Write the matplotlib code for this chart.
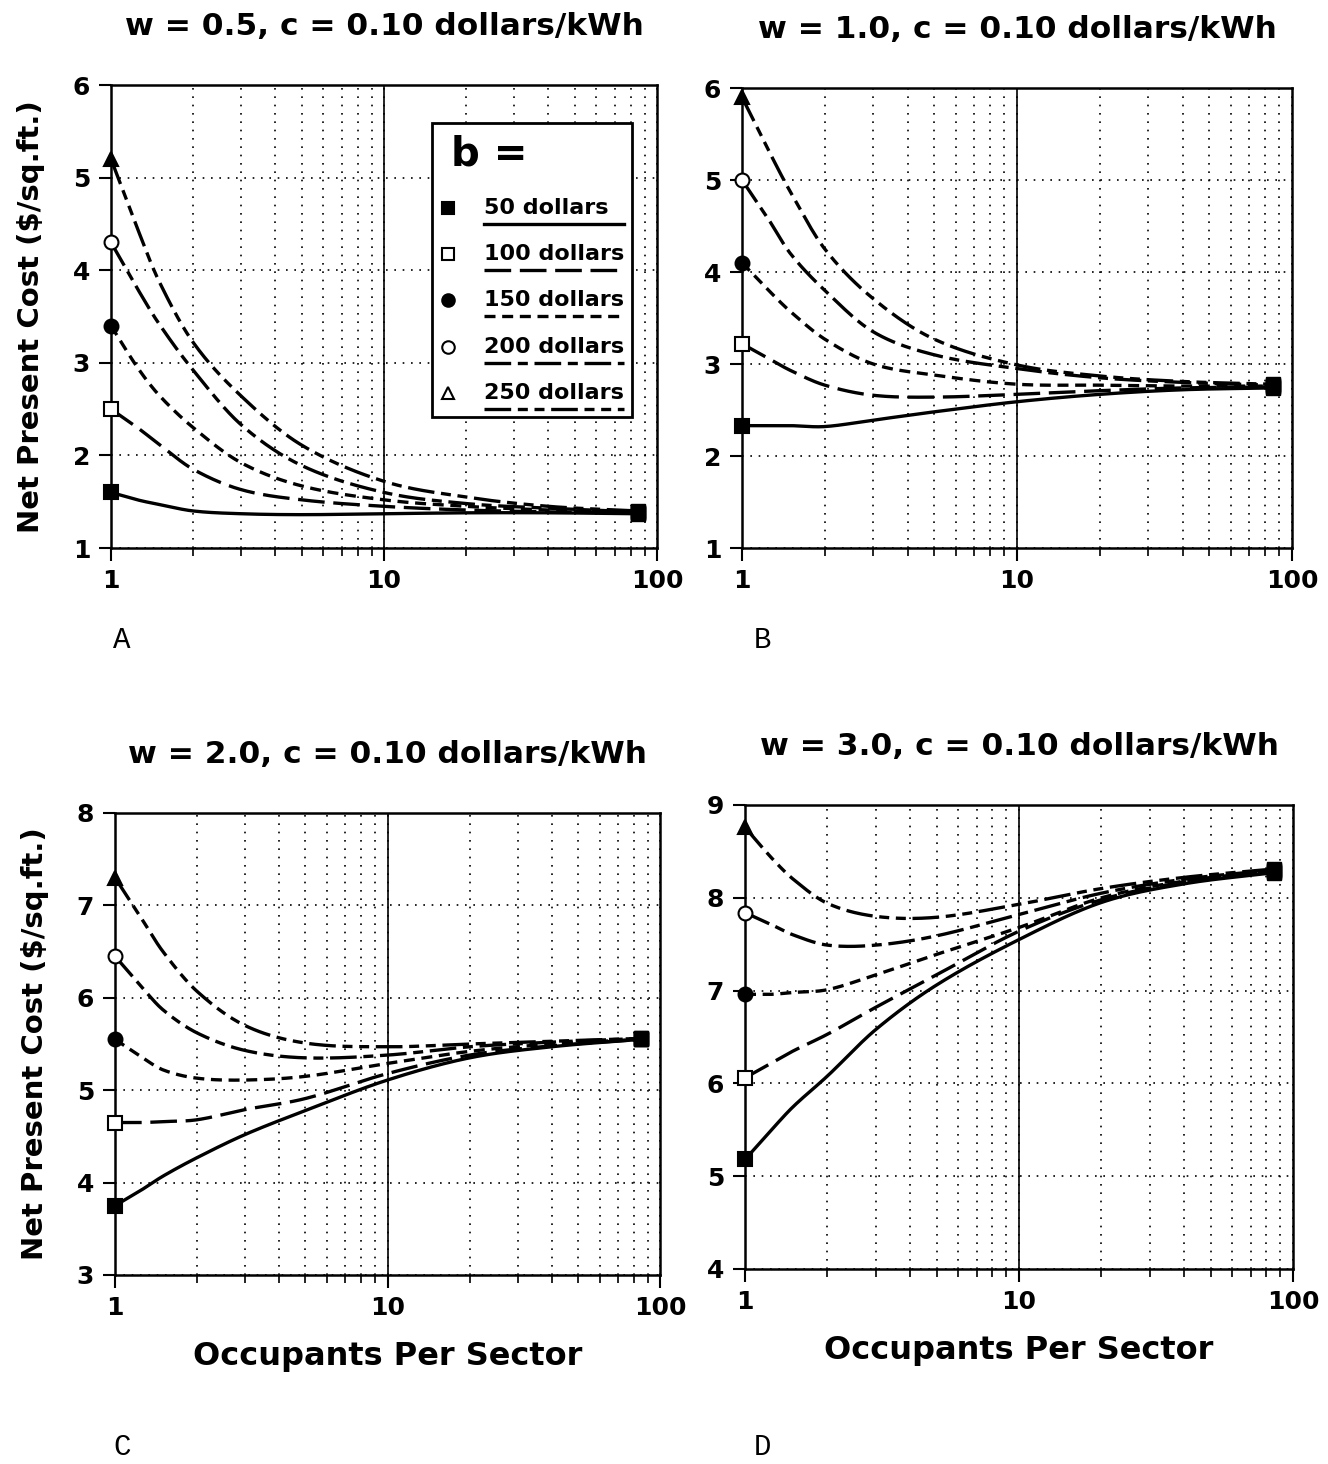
import numpy as np
import matplotlib
matplotlib.use("Agg")
import matplotlib.pyplot as plt
from matplotlib.patches import Rectangle
from matplotlib.ticker import FixedLocator, FixedFormatter, NullFormatter

# occupants per sector (x), read at these points
occupants = [1, 1.25, 1.5, 2, 3, 5, 10, 20, 40, 85]
b_labels = ["50 dollars", "100 dollars", "150 dollars", "200 dollars", "250 dollars"]

# panel A: w = 0.5
npc_A = {
    "50":  [1.60, 1.52, 1.47, 1.40, 1.37, 1.36, 1.37, 1.38, 1.38, 1.37],
    "100": [2.50, 2.30, 2.12, 1.85, 1.63, 1.52, 1.45, 1.41, 1.39, 1.38],
    "150": [3.40, 2.95, 2.65, 2.30, 1.92, 1.67, 1.52, 1.45, 1.41, 1.38],
    "200": [4.30, 3.80, 3.42, 2.92, 2.33, 1.89, 1.60, 1.48, 1.43, 1.39],
    "250": [5.20, 4.45, 3.88, 3.22, 2.64, 2.11, 1.72, 1.55, 1.45, 1.40],
}
# panel B: w = 1.0
npc_B = {
    "50":  [2.33, 2.33, 2.33, 2.32, 2.39, 2.48, 2.59, 2.67, 2.72, 2.74],
    "100": [3.22, 3.06, 2.93, 2.77, 2.66, 2.64, 2.67, 2.71, 2.74, 2.75],
    "150": [4.10, 3.80, 3.57, 3.27, 3.00, 2.88, 2.78, 2.77, 2.76, 2.76],
    "200": [5.00, 4.57, 4.20, 3.80, 3.35, 3.10, 2.95, 2.85, 2.80, 2.77],
    "250": [5.90, 5.32, 4.87, 4.25, 3.71, 3.27, 2.99, 2.87, 2.81, 2.78],
}
# panel C: w = 2.0
npc_C = {
    "50":  [3.75, 3.92, 4.07, 4.27, 4.52, 4.78, 5.11, 5.35, 5.47, 5.55],
    "100": [4.65, 4.65, 4.66, 4.68, 4.79, 4.91, 5.18, 5.38, 5.48, 5.55],
    "150": [5.55, 5.36, 5.22, 5.13, 5.11, 5.15, 5.29, 5.42, 5.50, 5.55],
    "200": [6.45, 6.12, 5.87, 5.62, 5.43, 5.35, 5.38, 5.47, 5.52, 5.56],
    "250": [7.30, 6.86, 6.50, 6.07, 5.70, 5.51, 5.47, 5.50, 5.53, 5.56],
}
# panel D: w = 3.0
npc_D = {
    "50":  [5.18, 5.50, 5.75, 6.08, 6.58, 7.06, 7.55, 7.95, 8.15, 8.27],
    "100": [6.06, 6.22, 6.35, 6.53, 6.82, 7.17, 7.64, 7.98, 8.17, 8.28],
    "150": [6.96, 6.96, 6.98, 7.01, 7.17, 7.39, 7.68, 8.00, 8.18, 8.29],
    "200": [7.84, 7.71, 7.60, 7.49, 7.49, 7.59, 7.82, 8.05, 8.20, 8.30],
    "250": [8.76, 8.43, 8.20, 7.94, 7.80, 7.79, 7.93, 8.10, 8.22, 8.31],
}

titles = ["w = 0.5, c = 0.10 dollars/kWh", "w = 1.0, c = 0.10 dollars/kWh",
          "w = 2.0, c = 0.10 dollars/kWh", "w = 3.0, c = 0.10 dollars/kWh"]
letters = ["A", "B", "C", "D"]
ylims = [(1, 6), (1, 6), (3, 8), (4, 9)]

styles = {
    "50":  dict(ls="-", marker="s", mfc="k"),
    "100": dict(ls=(0, (8, 2.6)), marker="s", mfc="w"),
    "150": dict(ls=(0, (3.3, 2)), marker="o", mfc="k"),
    "200": dict(ls=(0, (8, 2, 3, 2)), marker="o", mfc="w"),
    "250": dict(ls=(0, (8, 2, 3, 2, 3, 2)), marker="^", mfc="k"),
}

W, H = 1328, 1464
fig = plt.figure(figsize=(W / 100, H / 100), dpi=100)

# axes boxes in pixels: left, right, top, bottom
boxes = [(111, 657, 85, 548), (742, 1292, 88, 548),
         (115, 660, 813, 1275), (745, 1293, 805, 1269)]


def smooth(x, y):
    # Catmull-Rom style cubic through the read points, in log x
    lx = np.log10(x)
    xs = np.linspace(lx[0], lx[-1], 300)
    ys = np.empty_like(xs)
    n = len(lx)
    for k, xv in enumerate(xs):
        i = min(np.searchsorted(lx, xv, side="right") - 1, n - 2)
        i = max(i, 0)
        x0, x1 = lx[i], lx[i + 1]
        y0, y1 = y[i], y[i + 1]
        m0 = (y[i + 1] - y[i - 1]) / (lx[i + 1] - lx[i - 1]) if i > 0 else (y1 - y0) / (x1 - x0)
        m1 = (y[i + 2] - y[i]) / (lx[i + 2] - lx[i]) if i + 2 < n else (y1 - y0) / (x1 - x0)
        h = x1 - x0
        t = (xv - x0) / h
        ys[k] = ((2*t**3 - 3*t**2 + 1) * y0 + (t**3 - 2*t**2 + t) * h * m0
                 + (-2*t**3 + 3*t**2) * y1 + (t**3 - t**2) * h * m1)
    return 10 ** xs, ys


datasets = [npc_A, npc_B, npc_C, npc_D]
axes = []
for p in range(4):
    l, r, t, b = boxes[p]
    ax = fig.add_axes([l / W, 1 - b / H, (r - l) / W, (b - t) / H])
    axes.append(ax)
    ax.set_xscale("log")
    ax.set_xlim(1, 100)
    ax.set_ylim(*ylims[p])
    x = np.array(occupants, float)
    for key in ["250", "200", "150", "100", "50"]:
        st = styles[key]
        y = np.array(datasets[p][key])
        xs, ys = smooth(x, y)
        ax.plot(xs, ys, color="k", lw=2.4, ls=st["ls"], solid_capstyle="butt",
                dash_capstyle="butt", zorder=3)
        ax.plot(x[:1], y[:1], marker=st["marker"], ms=10, mfc=st["mfc"],
                mec="k", mew=1.5, ls="none", zorder=5, clip_on=False)
        ax.plot(x[-1:], y[-1:], marker="s", ms=10, mfc="k", mec="k",
                ls="none", zorder=5)

    ax.xaxis.set_major_locator(FixedLocator([1, 10, 100]))
    ax.xaxis.set_major_formatter(FixedFormatter(["1", "10", "100"]))
    ax.xaxis.set_minor_locator(FixedLocator([2, 3, 4, 5, 6, 7, 8, 9,
                                             20, 30, 40, 50, 60, 70, 80, 90]))
    ax.xaxis.set_minor_formatter(NullFormatter())
    ax.grid(which="both", axis="x", color="k", ls=(0, (1, 4)), lw=1.2)
    ax.grid(which="major", axis="y", color="k", ls=(0, (1, 4)), lw=1.2)
    ax.axvline(10, color="k", lw=1.2, zorder=2)
    ax.tick_params(which="major", direction="out", length=9, width=1.5,
                   labelsize=18, pad=6, top=False, right=False)
    ax.tick_params(which="minor", direction="out", length=6, width=1.2,
                   top=False, right=False)
    for lab in ax.get_xticklabels() + ax.get_yticklabels():
        lab.set_fontweight("bold")
    for s in ax.spines.values():
        s.set_linewidth(1.8)
    ax.set_title(titles[p], fontsize=22.5, fontweight="bold", pad=36)
    if p in (0, 2):
        ax.set_ylabel("Net Present Cost ($/sq.ft.)", fontsize=21,
                      fontweight="bold", labelpad=20)
    if p in (2, 3):
        ax.set_xlabel("Occupants Per Sector", fontsize=23, fontweight="bold",
                      labelpad=15)

# panel letters
letter_pos = [(122, 640), (762, 640), (122, 1447), (762, 1447)]
for (lx, ly), s in zip(letter_pos, letters):
    fig.text(lx / W, 1 - ly / H, s, family="Liberation Mono", fontsize=21,
             ha="center", va="center")

# legend box in panel A
ax = axes[0]
tr = ax.transAxes
ax.add_patch(Rectangle((0.588, 0.283), 0.366, 0.635, transform=tr,
                       fill=True, fc="w", ec="k", lw=2, zorder=6))
ax.text(0.622, 0.85, "b =", transform=tr, fontsize=29, fontweight="bold",
        va="center", ha="left", zorder=7)
ent_y = [0.734, 0.635, 0.536, 0.434, 0.335]
for key, lab, yy in zip(["50", "100", "150", "200", "250"], b_labels, ent_y):
    st = styles[key]
    mfc = "w" if key == "250" else st["mfc"]
    ax.plot([0.617], [yy], transform=tr, marker=st["marker"], ms=9, mfc=mfc,
            mec="k", mew=1.5, ls="none", zorder=7)
    ax.text(0.683, yy, lab, transform=tr, fontsize=16, fontweight="bold",
            va="center", ha="left", zorder=7)
    ax.plot([0.683, 0.94], [yy - 0.034] * 2, transform=tr, color="k", lw=2.4,
            ls=st["ls"], dash_capstyle="butt", zorder=7)

fig.savefig("out.png", dpi=100)
